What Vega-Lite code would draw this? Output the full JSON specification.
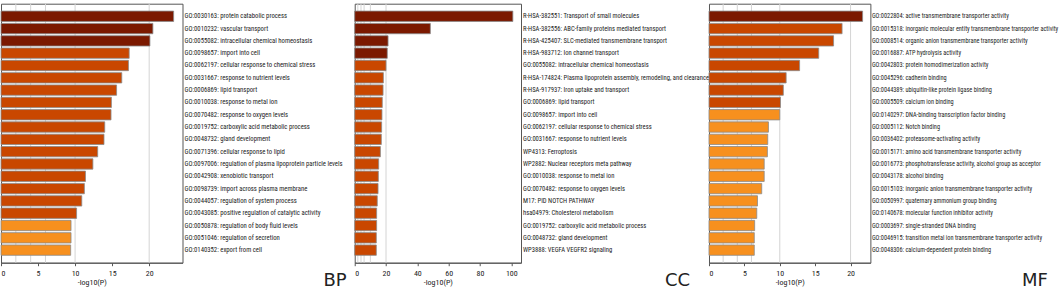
{
  "$schema": "https://vega.github.io/schema/vega-lite/v6.json",
  "padding": {"left": 0, "top": 2.7, "right": 0, "bottom": 0},
  "bounds": "flush",
  "spacing": 171.7,
  "config": {
    "view": {"stroke": "#555555", "strokeWidth": 1},
    "font": "Roboto Condensed",
    "axis": {"domainColor": "#555555", "tickColor": "#555555", "labelColor": "#222222", "titleColor": "#222222", "labelFont": "Roboto Condensed", "titleFont": "Roboto Condensed", "labelOverlap": false},
    "legend": {"disable": true}
  },
  "datasets": {
    "grid": [{"g": 2}, {"g": 4}, {"g": 6}, {"g": 10}, {"g": 20}],
    "bp": [
      {"term": "GO:0030163: protein catabolic process", "value": 23.3, "level": 1},
      {"term": "GO:0010232: vascular transport", "value": 20.5, "level": 1},
      {"term": "GO:0055082: intracellular chemical homeostasis", "value": 20.1, "level": 1},
      {"term": "GO:0098657: import into cell", "value": 17.3, "level": 2},
      {"term": "GO:0062197: cellular response to chemical stress", "value": 17.2, "level": 2},
      {"term": "GO:0031667: response to nutrient levels", "value": 16.3, "level": 2},
      {"term": "GO:0006869: lipid transport", "value": 15.6, "level": 2},
      {"term": "GO:0010038: response to metal ion", "value": 14.9, "level": 2},
      {"term": "GO:0070482: response to oxygen levels", "value": 14.85, "level": 2},
      {"term": "GO:0019752: carboxylic acid metabolic process", "value": 14.0, "level": 2},
      {"term": "GO:0048732: gland development", "value": 13.9, "level": 2},
      {"term": "GO:0071396: cellular response to lipid", "value": 13.05, "level": 2},
      {"term": "GO:0097006: regulation of plasma lipoprotein particle levels", "value": 12.4, "level": 2},
      {"term": "GO:0042908: xenobiotic transport", "value": 11.4, "level": 2},
      {"term": "GO:0098739: import across plasma membrane", "value": 11.25, "level": 2},
      {"term": "GO:0044057: regulation of system process", "value": 10.9, "level": 2},
      {"term": "GO:0043085: positive regulation of catalytic activity", "value": 10.2, "level": 2},
      {"term": "GO:0050878: regulation of body fluid levels", "value": 9.45, "level": 3},
      {"term": "GO:0051046: regulation of secretion", "value": 9.45, "level": 3},
      {"term": "GO:0140352: export from cell", "value": 9.4, "level": 3}
    ],
    "cc": [
      {"term": "R-HSA-382551: Transport of small molecules", "value": 101, "level": 1},
      {"term": "R-HSA-382556: ABC-family proteins mediated transport", "value": 48.3, "level": 1},
      {"term": "R-HSA-425407: SLC-mediated transmembrane transport", "value": 21.3, "level": 1},
      {"term": "R-HSA-983712: Ion channel transport", "value": 20.8, "level": 1},
      {"term": "GO:0055082: intracellular chemical homeostasis", "value": 20.0, "level": 2},
      {"term": "R-HSA-174824: Plasma lipoprotein assembly, remodeling, and clearance", "value": 18.3, "level": 2},
      {"term": "R-HSA-917937: Iron uptake and transport", "value": 18.1, "level": 2},
      {"term": "GO:0006869: lipid transport", "value": 17.6, "level": 2},
      {"term": "GO:0098657: import into cell", "value": 17.4, "level": 2},
      {"term": "GO:0062197: cellular response to chemical stress", "value": 17.2, "level": 2},
      {"term": "GO:0031667: response to nutrient levels", "value": 17.0, "level": 2},
      {"term": "WP4313: Ferroptosis", "value": 16.4, "level": 2},
      {"term": "WP2882: Nuclear receptors meta pathway", "value": 15.3, "level": 2},
      {"term": "GO:0010038: response to metal ion", "value": 15.1, "level": 2},
      {"term": "GO:0070482: response to oxygen levels", "value": 14.9, "level": 2},
      {"term": "M17: PID NOTCH PATHWAY", "value": 14.4, "level": 2},
      {"term": "hsa04979: Cholesterol metabolism", "value": 14.0, "level": 2},
      {"term": "GO:0019752: carboxylic acid metabolic process", "value": 14.0, "level": 2},
      {"term": "GO:0048732: gland development", "value": 13.8, "level": 2},
      {"term": "WP3888: VEGFA VEGFR2 signaling", "value": 13.8, "level": 2}
    ],
    "mf": [
      {"term": "GO:0022804: active transmembrane transporter activity", "value": 21.7, "level": 1},
      {"term": "GO:0015318: inorganic molecular entity transmembrane transporter activity", "value": 18.8, "level": 2},
      {"term": "GO:0008514: organic anion transmembrane transporter activity", "value": 17.6, "level": 2},
      {"term": "GO:0016887: ATP hydrolysis activity", "value": 15.5, "level": 2},
      {"term": "GO:0042803: protein homodimerization activity", "value": 12.8, "level": 2},
      {"term": "GO:0045296: cadherin binding", "value": 10.9, "level": 2},
      {"term": "GO:0044389: ubiquitin-like protein ligase binding", "value": 10.5, "level": 2},
      {"term": "GO:0005509: calcium ion binding", "value": 10.1, "level": 2},
      {"term": "GO:0140297: DNA-binding transcription factor binding", "value": 10.0, "level": 3},
      {"term": "GO:0005112: Notch binding", "value": 8.4, "level": 3},
      {"term": "GO:0036402: proteasome-activating activity", "value": 8.3, "level": 3},
      {"term": "GO:0015171: amino acid transmembrane transporter activity", "value": 8.25, "level": 3},
      {"term": "GO:0016773: phosphotransferase activity, alcohol group as acceptor", "value": 7.8, "level": 3},
      {"term": "GO:0043178: alcohol binding", "value": 7.8, "level": 3},
      {"term": "GO:0015103: inorganic anion transmembrane transporter activity", "value": 7.45, "level": 3},
      {"term": "GO:0050997: quaternary ammonium group binding", "value": 6.85, "level": 3},
      {"term": "GO:0140678: molecular function inhibitor activity", "value": 6.75, "level": 3},
      {"term": "GO:0003697: single-stranded DNA binding", "value": 6.45, "level": 3},
      {"term": "GO:0046915: transition metal ion transmembrane transporter activity", "value": 6.4, "level": 3},
      {"term": "GO:0048306: calcium-dependent protein binding", "value": 6.4, "level": 3}
    ]
  },
  "hconcat": [
    {
      "width": 181.5,
      "height": 259,
      "layer": [
        {
          "data": {"name": "grid"},
          "mark": {"type": "rule", "color": "#d4d4d4", "strokeWidth": 1},
          "encoding": {"x": {"field": "g", "type": "quantitative", "scale": {"domain": [0, 24.5], "nice": false},
            "axis": {"values": [0, 5, 10, 15, 20], "labelOverlap": false, "grid": false, "tickSize": 3, "labelPadding": 4, "labelFontSize": 8, "title": "-log10(P)", "titleFontSize": 8, "titleFontWeight": "normal", "titlePadding": 1}}}
        },
        {
          "data": {"name": "bp"},
          "mark": {"type": "bar", "stroke": "#8a8a8a", "strokeWidth": 0.8},
          "encoding": {
            "x": {"field": "value", "type": "quantitative", "scale": {"domain": [0, 24.5], "nice": false},
              "axis": {"values": [0, 5, 10, 15, 20], "labelOverlap": false, "grid": false, "tickSize": 3, "labelPadding": 4, "labelFontSize": 8, "title": "-log10(P)", "titleFontSize": 8, "titleFontWeight": "normal", "titlePadding": 1}},
            "y": {"field": "term", "type": "nominal", "sort": null, "scale": {"paddingInner": 0.16, "paddingOuter": 0.6},
              "axis": {"orient": "right", "ticks": false, "domain": false, "labelPadding": 1.5, "labelFontSize": 6.7, "labelLimit": 0,
                "title": "BP", "titleAngle": 0, "titleX": 152, "titleY": 277, "titleAlign": "center", "titleBaseline": "middle", "titleFontSize": 18, "titleFontWeight": "normal", "titleFont": "DejaVu Sans"}},
            "color": {"field": "level", "type": "ordinal", "scale": {"domain": [1, 2, 3], "range": ["#7b1900", "#c94700", "#f7901e"]}}
          }
        }
      ]
    },
    {
      "bounds": "flush",
      "spacing": 187.3,
      "hconcat": [
        {
          "width": 166.3,
          "height": 259,
          "layer": [
            {
              "data": {"name": "grid"},
              "mark": {"type": "rule", "color": "#d4d4d4", "strokeWidth": 1},
              "encoding": {"x": {"field": "g", "type": "quantitative", "scale": {"domain": [0, 106.2], "nice": false},
                "axis": {"values": [0, 20, 40, 60, 80, 100], "labelOverlap": false, "grid": false, "tickSize": 3, "labelPadding": 4, "labelFontSize": 8, "title": "-log10(P)", "titleFontSize": 8, "titleFontWeight": "normal", "titlePadding": 1}}}
            },
            {
              "data": {"name": "cc"},
              "mark": {"type": "bar", "stroke": "#8a8a8a", "strokeWidth": 0.8},
              "encoding": {
                "x": {"field": "value", "type": "quantitative", "scale": {"domain": [0, 106.2], "nice": false},
                  "axis": {"values": [0, 20, 40, 60, 80, 100], "labelOverlap": false, "grid": false, "tickSize": 3, "labelPadding": 4, "labelFontSize": 8, "title": "-log10(P)", "titleFontSize": 8, "titleFontWeight": "normal", "titlePadding": 1}},
                "y": {"field": "term", "type": "nominal", "sort": null, "scale": {"paddingInner": 0.16, "paddingOuter": 0.6},
                  "axis": {"orient": "right", "ticks": false, "domain": false, "labelPadding": 1.5, "labelFontSize": 6.6, "labelLimit": 0,
                    "title": "CC", "titleAngle": 0, "titleX": 156, "titleY": 277, "titleAlign": "center", "titleBaseline": "middle", "titleFontSize": 18, "titleFontWeight": "normal", "titleFont": "DejaVu Sans"}},
                "color": {"field": "level", "type": "ordinal", "scale": {"domain": [1, 2, 3], "range": ["#7b1900", "#c94700", "#f7901e"]}}
              }
            }
          ]
        },
        {
          "width": 161.4,
          "height": 259,
          "layer": [
            {
              "data": {"name": "grid"},
              "mark": {"type": "rule", "color": "#d4d4d4", "strokeWidth": 1},
              "encoding": {"x": {"field": "g", "type": "quantitative", "scale": {"domain": [0, 22.8], "nice": false},
                "axis": {"values": [0, 5, 10, 15, 20], "labelOverlap": false, "grid": false, "tickSize": 3, "labelPadding": 4, "labelFontSize": 8, "title": "-log10(P)", "titleFontSize": 8, "titleFontWeight": "normal", "titlePadding": 1}}}
            },
            {
              "data": {"name": "mf"},
              "mark": {"type": "bar", "stroke": "#8a8a8a", "strokeWidth": 0.8},
              "encoding": {
                "x": {"field": "value", "type": "quantitative", "scale": {"domain": [0, 22.8], "nice": false},
                  "axis": {"values": [0, 5, 10, 15, 20], "labelOverlap": false, "grid": false, "tickSize": 3, "labelPadding": 4, "labelFontSize": 8, "title": "-log10(P)", "titleFontSize": 8, "titleFontWeight": "normal", "titlePadding": 1}},
                "y": {"field": "term", "type": "nominal", "sort": null, "scale": {"paddingInner": 0.16, "paddingOuter": 0.6},
                  "axis": {"orient": "right", "ticks": false, "domain": false, "labelPadding": 1, "labelFontSize": 6.3, "labelLimit": 0,
                    "title": "MF", "titleAngle": 0, "titleX": 164, "titleY": 277, "titleAlign": "center", "titleBaseline": "middle", "titleFontSize": 18, "titleFontWeight": "normal", "titleFont": "DejaVu Sans"}},
                "color": {"field": "level", "type": "ordinal", "scale": {"domain": [1, 2, 3], "range": ["#7b1900", "#c94700", "#f7901e"]}}
              }
            }
          ]
        }
      ]
    }
  ]
}
